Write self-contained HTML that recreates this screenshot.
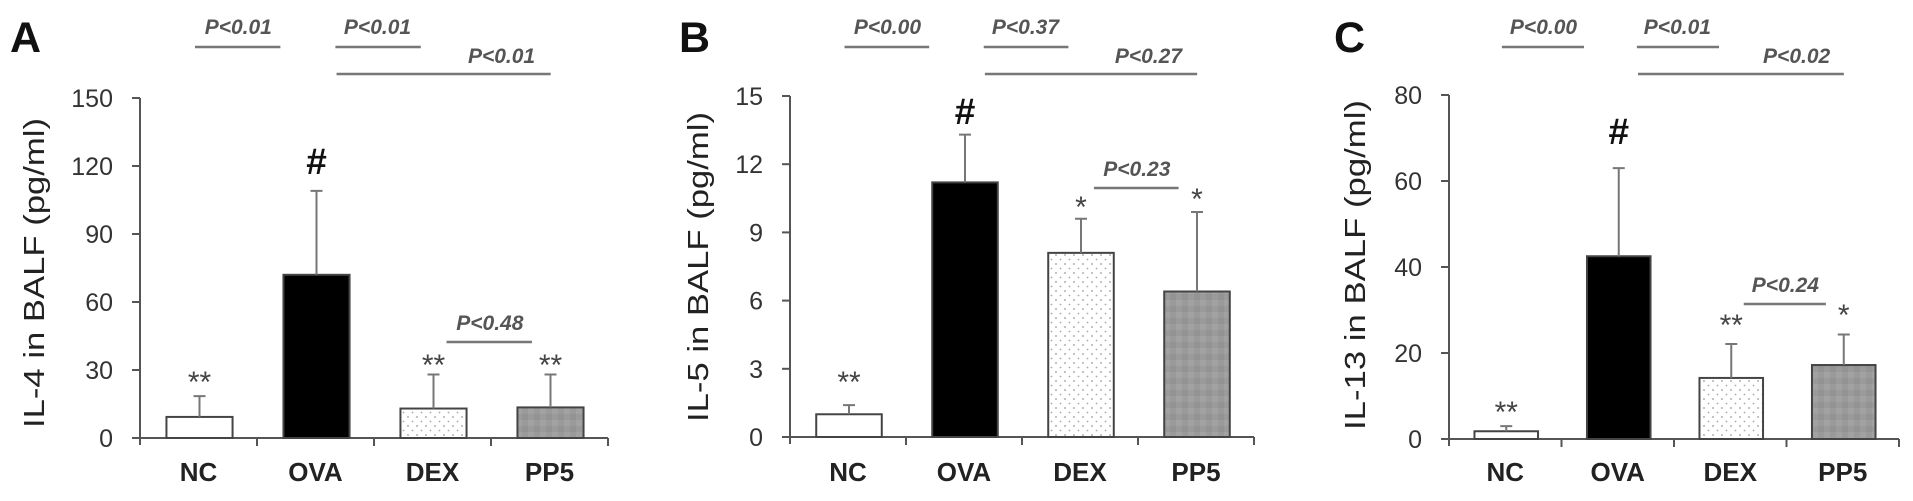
<!DOCTYPE html>
<html><head><meta charset="utf-8"><style>
html,body{margin:0;padding:0;background:#fff}
svg{display:block;font-family:"Liberation Sans",Arial,sans-serif}
</style></head><body>
<svg id="chart" width="1913" height="501" viewBox="0 0 1913 501" xmlns="http://www.w3.org/2000/svg">
<defs>
<pattern id="dots" width="9" height="9" patternUnits="userSpaceOnUse"><rect width="9" height="9" fill="#fff"/><circle cx="3" cy="3" r="0.9" fill="#999"/><circle cx="7.5" cy="7.5" r="0.9" fill="#aaa"/></pattern>
<pattern id="grain" width="12" height="12" patternUnits="userSpaceOnUse"><rect width="12" height="12" fill="#9a9a9a"/><rect x="0" y="0" width="6" height="6" fill="#a2a2a2"/><rect x="6" y="6" width="6" height="6" fill="#939393"/></pattern>
</defs>
</svg>
<script>
const categories = ["NC","OVA","DEX","PP5"];
const il4Values = [9.3, 72, 13, 13.5];
const il4Errors = [18.5, 109, 28, 28];
const il5Values = [1.0, 11.2, 8.1, 6.4];
const il5Errors = [1.4, 13.3, 9.6, 9.9];
const il13Values = [1.8, 42.5, 14.2, 17.2];
const il13Errors = [3.0, 63, 22.1, 24.3];
const il4Ticks = [0,30,60,90,120,150];
const il5Ticks = [0,3,6,9,12,15];
const il13Ticks = [0,20,40,60,80];
const il4Marks = ["**","#","**","**"];
const il5Marks = ["**","#","*","*"];
const il13Marks = ["**","#","**","*"];
const il4P = ["P<0.01","P<0.01","P<0.01","P<0.48"];
const il5P = ["P<0.00","P<0.37","P<0.27","P<0.23"];
const il13P = ["P<0.00","P<0.01","P<0.02","P<0.24"];

const NS="http://www.w3.org/2000/svg";
const svg=document.getElementById('chart');
function mk(tag,attrs,parent){const e=document.createElementNS(NS,tag);for(const k in attrs)e.setAttribute(k,attrs[k]);(parent||svg).appendChild(e);return e;}

const panels=[
 {letter:"A",lx:10,ax:140,y0:438,yTop:98,max:150,catW:117,vals:il4Values,errs:il4Errors,ticks:il4Ticks,marks:il4Marks,markY:[375,160,358,358],ptxt:il4P,p4y:342,title:"IL-4 in BALF (pg/ml)",tx:33,ty:273,tlen:310},
 {letter:"B",lx:679,ax:790,y0:437,yTop:96,max:15,catW:116,vals:il5Values,errs:il5Errors,ticks:il5Ticks,marks:il5Marks,markY:[375,110,200,192],ptxt:il5P,p4y:188,title:"IL-5 in BALF (pg/ml)",tx:697,ty:267,tlen:310},
 {letter:"C",lx:1334,ax:1449,y0:439,yTop:95,max:80,catW:112.5,vals:il13Values,errs:il13Errors,ticks:il13Ticks,marks:il13Marks,markY:[405,130,318,308],ptxt:il13P,p4y:304,title:"IL-13 in BALF (pg/ml)",tx:1354,ty:265,tlen:330}
];
const fills=["#fff","#000","url(#dots)","url(#grain)"];

panels.forEach((p,pi)=>{
  const g=mk('g',{});
  
  
  const y=v=>p.y0-(v/p.max)*(p.y0-p.yTop);
  const cx=i=>p.ax+p.catW*(i+0.5);
  const cu=u=>p.ax+p.catW*u;
  const L=mk('text',{x:p.lx,y:52,'font-size':43,'font-weight':'bold',fill:'#111'},g);L.textContent=p.letter;
  
  
  const t=mk('text',{x:0,y:0,'font-size':29,fill:'#222','text-anchor':'middle',transform:`translate(${p.tx+11},${p.ty}) rotate(-90)`,textLength:p.tlen,lengthAdjust:'spacingAndGlyphs'},g);t.textContent=p.title;
  
  
  const ya=mk('line',{x1:p.ax,y1:p.yTop,x2:p.ax,y2:p.y0+7,stroke:'#555','stroke-width':2},g);
  
  
  const xa=mk('line',{x1:p.ax-8,y1:p.y0,x2:p.ax+p.catW*4,y2:p.y0,stroke:'#555','stroke-width':2},g);
  
  
  p.ticks.forEach(tv=>{
    mk('line',{x1:p.ax-8,y1:y(tv),x2:p.ax,y2:y(tv),stroke:'#555','stroke-width':2},g);
    const tl=mk('text',{x:p.ax-27,y:y(tv)+9,'font-size':25,fill:'#333','text-anchor':'end'},g);tl.textContent=tv;
    
    
  });
  for(let i=1;i<=4;i++) mk('line',{x1:cu(i),y1:p.y0,x2:cu(i),y2:p.y0+8,stroke:'#555','stroke-width':2},g);
  categories.forEach((c,i)=>{
    const xl=mk('text',{x:cx(i),y:481,'font-size':26,'font-weight':'bold',fill:'#222','text-anchor':'middle'},g);xl.textContent=c;
    
    
    const bw=p.catW*0.565, bx=cx(i)-bw/2+1;
    const b=mk('rect',{x:bx,y:y(p.vals[i]),width:bw,height:p.y0-y(p.vals[i]),fill:fills[i],stroke:'#444','stroke-width':2},g);
    
    
    const ex=cx(i)+1;
    const e=mk('path',{d:`M${ex},${y(p.vals[i])} V${y(p.errs[i])} M${ex-6},${y(p.errs[i])} H${ex+6}`,stroke:'#777','stroke-width':2,fill:'none'},g);
    
    
    const m=p.marks[i];
    const mt=mk('text',{x:cx(i)+1,y:p.markY[i]+(m==='#'?14:17),'font-size':m==='#'?37:30,'font-weight':m==='#'?'bold':'normal',fill:m==='#'?'#111':'#444','text-anchor':'middle'},g);mt.textContent=m;
    
    
  });
  const br=[[0.47,1.20,47,0.84,34],[1.67,2.40,47,2.03,34],[1.68,3.51,74,3.09,63],[2.62,3.35,p.p4y,2.99,p.p4y-12]];
  br.forEach((b,k)=>{
    const ln=mk('line',{x1:cu(b[0]),y1:b[2],x2:cu(b[1]),y2:b[2],stroke:'#777','stroke-width':2.5},g);
    
    
    const pt=mk('text',{x:cu(b[3]),y:b[4],'font-size':21,'font-weight':'bold','font-style':'italic',fill:'#555','text-anchor':'middle'},g);pt.textContent=p.ptxt[k];
    
    
  });
});
</script>
</body></html>
